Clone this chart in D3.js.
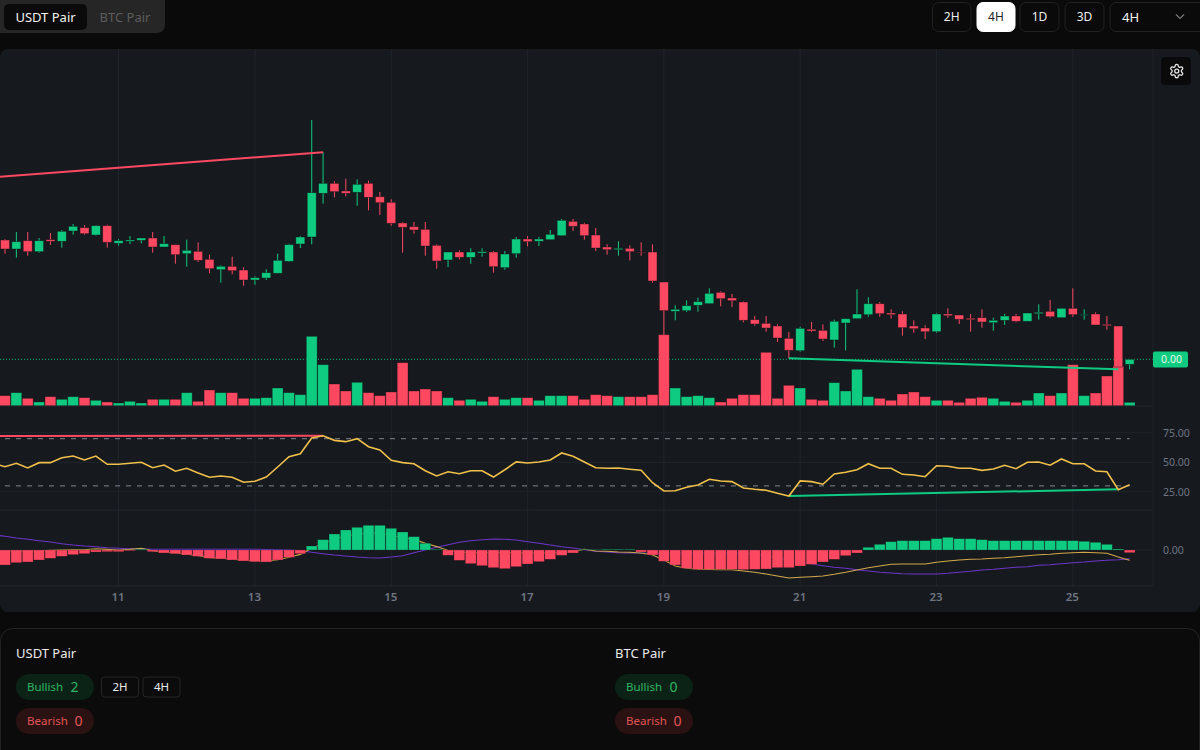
<!DOCTYPE html>
<html><head><meta charset="utf-8">
<style>html,body{margin:0;padding:0;background:#0a0a0a;overflow:hidden}svg{display:block;font-family:'Noto Sans',sans-serif}</style>
<script src="https://cdn.jsdelivr.net/npm/d3@7"></script></head><body>
<svg id="c" width="1200" height="750"></svg>
<script>
const opens=[160,151,159.3,148.3,160.3,158.7,169,172.3,165,174.3,156.7,158.7,159.7,162,153,155.3,146.3,148.7,140.7,130.3,133.7,130,120,122,126.7,138.7,156,163,206.7,216.7,209,207.7,216.7,203.3,197.7,177,173.3,170.7,154.7,140,148,142.7,147,148,132.3,146.3,161,158.7,160.3,164.3,178.7,176,165,153,150.3,151.7,148,148,118,88.7,89.3,94.7,96.3,107.7,102,98,80.3,76.7,74,61.7,49.3,70.7,69.7,60,77,81.3,85.3,96.3,87,86,74,72,68.3,86,85,81.7,82.3,77.3,79.7,84,78.7,86.3,88.7,82.3,91.7,84.7,86,75.7,74,35.7];
const highs=[161,168,168,162,167,170,176,175,174.3,175.3,161,164,162,168,164,155.3,160.3,157.7,145.3,134.7,143.3,132.7,123.7,130.7,146.3,156.3,164,280,247.7,218.7,221.3,220.7,219.3,208,200.7,178,178,178,155.7,148,149.7,151.7,151.7,149,149,163,164,163,170,181,181,177.3,172,155.7,158.7,154.7,157.7,155.7,118,94.7,99.7,102.3,111.7,108.7,106,98.7,84,84,75.7,68,73.3,78,75.7,80.3,81.3,110.7,102.7,98,90.7,88.7,79.7,74.7,86.7,91.7,85,86,90.7,82.3,86,86,87,95.7,100,91.7,111.7,90.7,87.7,84,74,40.7];
const lows=[146.3,142.3,144.3,147.3,155,152.3,165.3,165.3,164.3,152.3,154.3,156,156.7,147.3,153,136.3,133.3,138,126.7,117.3,125.7,114.3,115.3,120,126.7,138,152,155.7,196.3,202.7,203.7,194.3,189.7,185,174.3,147.3,166.3,144.3,131.3,133,140.7,136.3,143.3,127.3,130.3,142.3,153.7,154,160.3,164.3,169,160.3,149,145.3,144.3,139.7,144.3,117.3,65,79.7,88,88.3,96.3,93.7,93,77.7,74.3,68.3,58,41.7,48.3,68,59,52.3,49.7,81.3,83.3,83.3,81.3,64.3,67.3,61,67.3,82.3,76,68.3,72.3,69.3,75,77.7,78.7,80.3,82.3,82.3,83.3,80.3,75,70.3,30.7,30.7];
const closes=[151,158.3,148.3,159.3,158.7,168.7,173.7,166.3,174.3,157.7,159.3,160,162,153,156.3,145.3,149.7,139.7,131.3,133.7,129.3,120,122.3,127.3,139.7,155.3,163,207.3,216.7,208.3,206.7,215.7,202.7,197.3,176.7,172.7,170,154,139,148,142.7,148,148.3,133.3,146,161,158.3,161,165.7,179.7,173.7,164.3,152,150.3,151.7,148.3,147.3,119,89.3,90.7,94.3,98.3,106.7,101.3,99.3,79.7,76,72,62,49.7,71.7,69,61,78.7,81.3,86,96.3,86.3,85.3,72.3,71.3,68.3,86,84.3,80.7,80.3,78,79.7,84,78.7,87,87.7,83.3,91.7,85.3,85.3,75,74.3,33,40.7];
const volumes=[10.3,13.3,7.7,4,9.3,6.7,9.3,8.3,5.7,4,3,4.7,3,6.7,6.7,6.7,13.3,4.7,16,13.3,13.3,7.7,7.7,8.3,18,13.3,11.3,69.7,41.3,22,15,23.7,13.3,10.3,14,43.3,15,17,15,8.3,5.7,6.7,4.7,9.3,6.7,8.3,8.3,5.7,10.3,10.3,10.3,6.7,11.3,10.3,9.3,9.3,9.3,11.3,71.3,18,9.3,10.3,8.3,4,7.7,11.3,11.3,53.7,7.7,20.7,18,6.7,5.7,23.3,15,36.7,9.3,7.7,5.7,12,14,9.3,5.7,5.7,3.7,7.7,8.7,7.7,4.7,3.7,5.7,13,10.3,13,41.3,10.3,13,30,40,3.7];
const rsi=[46.3,49.2,45.2,49.7,49.7,53.9,55.3,52,55.3,48.3,48.3,49.2,50,45.4,47.7,42.4,44.9,40.9,37.3,38.4,37.3,33.1,33.9,37.5,46,54.7,57.3,70.6,72.5,68.6,67.5,70,63.2,60.4,51.7,49.7,48.8,42.9,38.4,42,40.3,42.9,42.9,37.5,43.7,50.3,49.4,50.3,52,57.9,55.1,50.3,45.4,44.9,45.2,44.1,43.2,32.7,25.7,25.9,28.8,30.8,35.6,34.2,33.6,28.2,27.1,26.3,23.7,21.4,34.2,33.6,31.4,40.1,41.5,43.7,48.8,44.9,44.9,39.8,39.2,37.8,47.1,46.6,44.9,44.9,43.2,44.3,47.5,44.6,50,50.3,47.5,52.8,48.8,48.8,42.6,42,26.8,31];
const rsiBefore=49;
const hist=[-15,-12.7,-12,-10,-8.3,-6.3,-4.7,-3.7,-2,-1.7,-1.7,-0.7,0.7,-1.7,-3,-3.7,-5,-6.3,-8.3,-9,-10,-11,-11.7,-12,-10,-7.3,-3.7,4,10.3,16,20,22.7,24.7,24.7,21.7,18,13.3,6.7,0.7,-5.3,-10.3,-13.7,-15.7,-17.7,-18.7,-16.7,-14,-11.7,-9.3,-5.3,-3,0.5,0.3,0.7,0.7,0.7,-2,-5,-11.3,-15,-18.3,-19.3,-19.3,-19.3,-19.3,-19.7,-19.3,-19,-17.7,-17.7,-16,-14.3,-12,-9.3,-5.7,-3,2.7,5.7,8.3,9.3,9.3,9.3,11.3,12.7,11.3,11.3,10.3,9.3,9.3,9.3,9.3,9.3,9.3,9.3,9.3,8.7,7.7,5.7,1,-2.7];
const signal=[13.7,12,10.7,9.3,8,6.3,5,4,3.3,2.3,1.7,1.3,1,0.8,0.7,0.7,0.7,0.7,0.7,0.7,0.7,0.7,0.7,0.5,0.3,0,-0.7,-2.3,-3.7,-5,-6,-7,-7.7,-8,-7,-5.7,-2.7,0,2.7,5.3,7.7,9.3,10.3,11,10.7,10,8.3,6.7,5,3.3,2,0.3,-1.3,-2,-2.7,-3,-3,-3.2,-3.3,-3.3,-3.3,-3.3,-3.3,-3.3,-3.4,-3.5,-4,-6,-8,-10,-11.7,-14,-15.7,-17.3,-18.3,-19.7,-21,-22.3,-23,-23.7,-24,-24,-24,-23.3,-22.3,-21.3,-20,-19.3,-18.3,-17.3,-16.7,-15.3,-14.7,-13.7,-12.7,-12,-11,-10.3,-9.7,-8.7];
const signalBefore=15.3;
const macd=[-1.3,-0.7,-1.3,-0.7,-0.3,0,0.3,0.3,1.3,0.6,0,0.6,1.7,-0.9,-2.3,-3,-4.3,-5.6,-7.6,-8.3,-9.3,-10.3,-11,-11,-9.7,-7.3,-4.4,1.7,6.6,11,14,15.7,17,16.7,14.7,12.3,10.6,6.7,3.4,-0.5,-2,-2.7,-2.7,-2.7,-2.7,-2.8,-3,-3,-3,-2.5,-1.5,0.8,-1,-1.3,-2,-2.3,-3,-5,-10,-16,-18.3,-19.3,-19.5,-19.7,-19.7,-21,-22.3,-24,-26,-28,-27.3,-26.7,-26,-24.3,-22.3,-20,-17.7,-16,-14.3,-14,-14,-14,-12.3,-11,-10,-9.3,-9,-8.3,-7.7,-6.7,-5.7,-4.7,-4.3,-3.3,-2.7,-2.3,-2.7,-3.3,-7,-10.3];
// divergence lines: [candle index, value]
const priceBear=[[-0.44,223.3],[28,247.7]];
const priceBull=[[69,41.7],[98,30.7]];
const rsiBear=[[-0.44,72.2],[28,72.5]];
const rsiBull=[[69,21.4],[98,27.1]];
const lastPrice=40.7;
const dayTicks=[10,22,34,46,58,70,82,94];
const dayLabels=["11","13","15","17","19","21","23","25"];
const rsiTicks=[25,50,75];
const rsiBands=[70,30];
const timeframes=["2H","4H","1D","3D"];

const UP="#0ecb81",DOWN="#fd4862",GRID="#20242b",PANE="#161a1f",AXIS="#6f7580",YEL="#f0c04a",PUR="#6d35c9";
const svg=d3.select("#c");
const n=closes.length;
const x=d3.scaleLinear().domain([0,99]).range([5,1129.64]);
const yP=d3.scaleLinear().domain([-6,351]).range([406,49]);
const yV=d3.scaleLinear().domain([0,70]).range([406,336]);
const yR=d3.scaleLinear().domain([25,75]).range([491.8,432.8]);
const yM=d3.scaleLinear().domain([-30,30]).range([580,520]);
const idx=d3.range(n);
const up=i=>closes[i]>=opens[i];

// ---- top bar
svg.append("rect").attr("x",-8).attr("y",-8).attr("width",173).attr("height",41).attr("rx",8).attr("fill","#262626");
svg.append("rect").attr("x",4).attr("y",4).attr("width",83).attr("height",26).attr("rx",5).attr("fill","#0a0a0a");
svg.append("text").attr("x",45.5).attr("y",22).attr("text-anchor","middle").attr("font-size",13).attr("fill","#f2f2f2").text("USDT Pair");
svg.append("text").attr("x",125).attr("y",22).attr("text-anchor","middle").attr("font-size",13).attr("fill","#5c5c5c").text("BTC Pair");
const btnX=[932.5,977,1020,1065],btnW=[38.5,38,39,39];
timeframes.forEach((t,i)=>{
  const on=t==="4H";
  svg.append("rect").attr("x",btnX[i]).attr("y",2.5).attr("width",btnW[i]).attr("height",29).attr("rx",6)
    .attr("fill",on?"#fff":"#0a0a0a").attr("stroke",on?"#fff":"#222");
  svg.append("text").attr("x",btnX[i]+btnW[i]/2).attr("y",21).attr("text-anchor","middle").attr("font-size",12)
    .attr("fill",on?"#222":"#eee").text(t);
});
svg.append("rect").attr("x",1110).attr("y",2.5).attr("width",100).attr("height",29).attr("rx",6).attr("fill","#0a0a0a").attr("stroke","#222");
svg.append("text").attr("x",1122).attr("y",21.5).attr("font-size",13).attr("fill","#f2f2f2").text("4H");
svg.append("path").attr("d","M1176 14.5l4 4 4-4").attr("fill","none").attr("stroke","#777").attr("stroke-width",1.2);

// ---- chart pane
svg.append("path").attr("d","M0 57a8 8 0 0 1 8-8H1192a8 8 0 0 1 8 8V604a8 8 0 0 1-8 8H8a8 8 0 0 1-8-8Z").attr("fill",PANE);
const clip=svg.append("defs").append("clipPath").attr("id","pane").append("rect").attr("x",0).attr("y",49).attr("width",1153).attr("height",537);
const g=svg.append("g").attr("clip-path","url(#pane)");

// grid
g.selectAll(".vg").data(dayTicks).join("line").attr("x1",d=>x(d)).attr("x2",d=>x(d)).attr("y1",49).attr("y2",586).attr("stroke",GRID);
[yR(75),yR(50),yR(25),yM(0)].forEach(v=>g.append("line").attr("x1",0).attr("x2",1153).attr("y1",v).attr("y2",v).attr("stroke",GRID));
[406,510,586].forEach(v=>svg.append("line").attr("x1",0).attr("x2",1153).attr("y1",v).attr("y2",v).attr("stroke","#23272e"));
svg.append("line").attr("x1",1153).attr("x2",1153).attr("y1",49).attr("y2",586).attr("stroke","#1f2329");

// dotted last price
g.append("line").attr("x1",0).attr("x2",1153).attr("y1",yP(lastPrice)).attr("y2",yP(lastPrice)).attr("stroke",UP).attr("stroke-dasharray","1 2").attr("opacity",.9);

// volume
const barW=10.8;
g.selectAll(".vol").data(idx).join("rect").attr("x",i=>x(i)-barW/2).attr("width",barW)
  .attr("y",i=>yV(volumes[i])).attr("height",i=>yV(0)-yV(volumes[i]))
  .attr("fill",i=>up(i)?UP:DOWN).attr("stroke","#111").attr("stroke-opacity",.45).attr("stroke-width",.7);

// candles
const bodyW=9;
g.selectAll(".wick").data(idx).join("line").attr("x1",i=>x(i)).attr("x2",i=>x(i))
  .attr("y1",i=>yP(highs[i])).attr("y2",i=>yP(lows[i])).attr("stroke",i=>up(i)?UP:DOWN).attr("stroke-width",1);
g.selectAll(".body").data(idx).join("rect").attr("x",i=>x(i)-bodyW/2).attr("width",bodyW)
  .attr("y",i=>yP(Math.max(opens[i],closes[i]))).attr("height",i=>Math.abs(yP(opens[i])-yP(closes[i])))
  .attr("fill",i=>up(i)?UP:DOWN).attr("stroke","#0d0f12").attr("stroke-opacity",.6).attr("stroke-width",.7);

// price divergence
const seg=(ys)=>d3.line().x(d=>x(d[0])).y(d=>ys(d[1]));
g.append("path").attr("d",seg(yP)(priceBear)).attr("fill","none").attr("stroke",DOWN).attr("stroke-width",2);
g.append("path").attr("d",seg(yP)(priceBull)).attr("fill","none").attr("stroke",UP).attr("stroke-width",2);

// last price tag
svg.append("rect").attr("x",1153).attr("y",351.5).attr("width",35).attr("height",16).attr("rx",2).attr("fill",UP);
svg.append("text").attr("x",1171.5).attr("y",363.3).attr("text-anchor","middle").attr("font-size",10.5).attr("fill","#e4f7ee").text("0.00");

// rsi
rsiBands.forEach(v=>g.append("line").attr("x1",x(0)).attr("x2",x(99)).attr("y1",yR(v)).attr("y2",yR(v))
  .attr("stroke","#81858f").attr("stroke-dasharray","5 6"));
const series=(arr,ys,before)=>d3.line().x((d,i)=>x(i-1)).y(d=>ys(d))([before,...arr]);
g.append("path").attr("d",seg(yR)(rsiBear)).attr("fill","none").attr("stroke",DOWN).attr("stroke-width",2);
g.append("path").attr("d",seg(yR)(rsiBull)).attr("fill","none").attr("stroke",UP).attr("stroke-width",2);
g.append("path").attr("d",series(rsi,yR,rsiBefore)).attr("fill","none").attr("stroke",YEL).attr("stroke-width",1.6);

// macd: lines under histogram
g.append("path").attr("d",series(signal,yM,signalBefore)).attr("fill","none").attr("stroke",PUR).attr("stroke-width",1.1);
g.append("path").attr("d",d3.line().x((d,i)=>x(i)).y(d=>yM(d))(macd)).attr("fill","none").attr("stroke","#d2a94a").attr("stroke-width",1.1);
g.selectAll(".hist").data(idx).join("rect").attr("x",i=>x(i)-barW/2).attr("width",barW)
  .attr("y",i=>Math.min(yM(0),yM(hist[i]))).attr("height",i=>Math.abs(yM(hist[i])-yM(0)))
  .attr("fill",i=>hist[i]>=0?UP:DOWN).attr("stroke","#111").attr("stroke-opacity",.4).attr("stroke-width",.6);

// axes
function styleAxis(a){a.select(".domain").remove();a.selectAll("line").remove();a.selectAll("text").attr("fill",AXIS).attr("font-size",10.5).attr("font-family","'Noto Sans',sans-serif");}
const xAxis=d3.axisBottom(x).tickValues(dayTicks).tickFormat((d,i)=>dayLabels[i]).tickSize(0).tickPadding(0);
svg.append("g").attr("transform","translate(-1,593)").call(xAxis).call(styleAxis).selectAll("text").attr("font-size",11.5).attr("font-weight",600).attr("dy","0.71em").attr("y",0);
const rAxis=d3.axisRight(yR).tickValues(rsiTicks).tickFormat(d3.format(".2f")).tickSize(0).tickPadding(0);
svg.append("g").attr("transform","translate(1163,0)").call(rAxis).call(styleAxis);
const mAxis=d3.axisRight(yM).tickValues([0]).tickFormat(d3.format(".2f")).tickSize(0).tickPadding(0);
svg.append("g").attr("transform","translate(1163,0)").call(mAxis).call(styleAxis);

// gear
svg.append("rect").attr("x",1161).attr("y",57).attr("width",30).attr("height",28).attr("rx",4).attr("fill","#0a0a0a");
const gear=svg.append("g").attr("transform","translate(1168.7,63) scale(.67)").attr("fill","none").attr("stroke","#e8e8e8").attr("stroke-width",1.9);
gear.append("path").attr("d","M12.22 2h-.44a2 2 0 0 0-2 2v.18a2 2 0 0 1-1 1.73l-.43.25a2 2 0 0 1-2 0l-.15-.08a2 2 0 0 0-2.73.73l-.22.38a2 2 0 0 0 .73 2.73l.15.1a2 2 0 0 1 1 1.72v.51a2 2 0 0 1-1 1.74l-.15.09a2 2 0 0 0-.73 2.73l.22.38a2 2 0 0 0 2.73.73l.15-.08a2 2 0 0 1 2 0l.43.25a2 2 0 0 1 1 1.73V20a2 2 0 0 0 2 2h.44a2 2 0 0 0 2-2v-.18a2 2 0 0 1 1-1.73l.43-.25a2 2 0 0 1 2 0l.15.08a2 2 0 0 0 2.73-.73l.22-.39a2 2 0 0 0-.73-2.73l-.15-.08a2 2 0 0 1-1-1.74v-.5a2 2 0 0 1 1-1.74l.15-.09a2 2 0 0 0 .73-2.73l-.22-.38a2 2 0 0 0-2.73-.73l-.15.08a2 2 0 0 1-2 0l-.43-.25a2 2 0 0 1-1-1.73V4a2 2 0 0 0-2-2z");
gear.append("circle").attr("cx",12).attr("cy",12).attr("r",3);

// ---- bottom summary
svg.append("rect").attr("x",.5).attr("y",628.5).attr("width",1199).attr("height",140).attr("rx",12).attr("fill","#0b0b0b").attr("stroke","#232323");
const summaries=[{name:"USDT Pair",px:16,bull:2,bear:0,tags:["2H","4H"]},{name:"BTC Pair",px:615,bull:0,bear:0,tags:[]}];
summaries.forEach(s=>{
  svg.append("text").attr("x",s.px).attr("y",658).attr("font-size",13).attr("fill","#ececec").text(s.name);
  svg.append("rect").attr("x",s.px).attr("y",674).attr("width",78).attr("height",26).attr("rx",13).attr("fill","#0b2316");
  svg.append("text").attr("x",s.px+11).attr("y",691).attr("font-size",11.5).attr("fill","#31b565").text("Bullish");
  svg.append("text").attr("x",s.px+54.5).attr("y",692).attr("font-size",14).attr("fill","#31b565").text(s.bull);
  svg.append("rect").attr("x",s.px).attr("y",708).attr("width",78).attr("height",26).attr("rx",13).attr("fill","#2a1212");
  svg.append("text").attr("x",s.px+11).attr("y",725).attr("font-size",11.5).attr("fill","#e25555").text("Bearish");
  svg.append("text").attr("x",s.px+58.5).attr("y",726).attr("font-size",14).attr("fill","#e25555").text(s.bear);
  s.tags.forEach((t,i)=>{
    const tx=s.px+85.5+i*41.5;
    svg.append("rect").attr("x",tx).attr("y",677).attr("width",37).attr("height",20).attr("rx",3).attr("fill","#0b0b0b").attr("stroke","#262626");
    svg.append("text").attr("x",tx+18.5).attr("y",691).attr("text-anchor","middle").attr("font-size",11.5).attr("fill","#ececec").text(t);
  });
});
</script></body></html>
